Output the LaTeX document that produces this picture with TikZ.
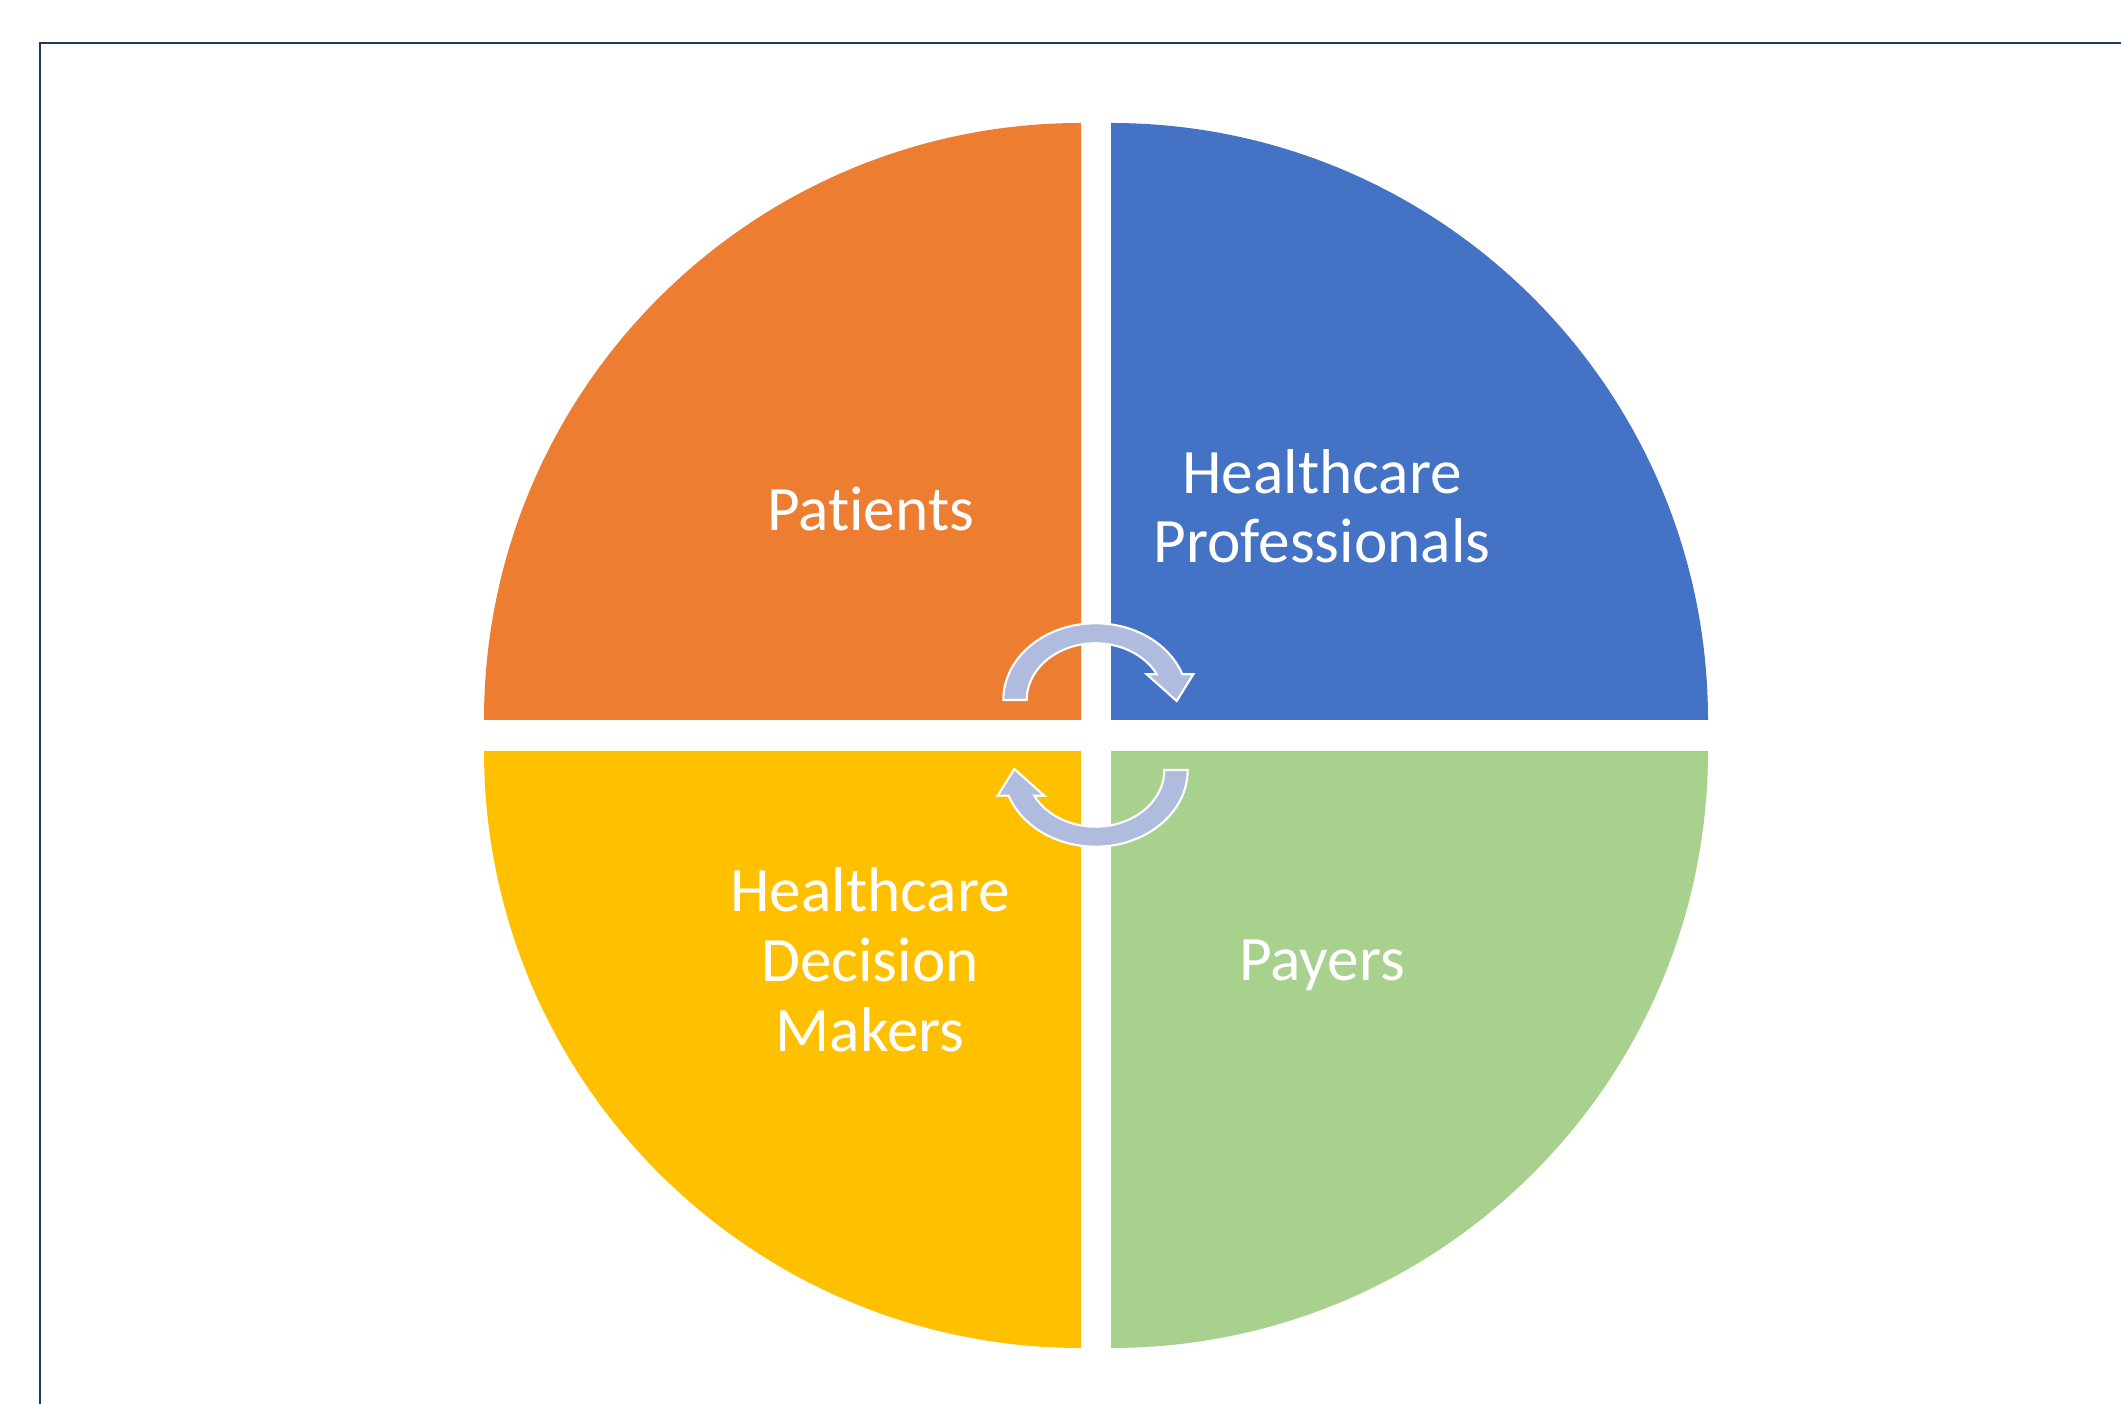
\documentclass[tikz,border=0pt]{standalone}
\usepackage{fontspec}
\setmainfont{Carlito}[Ligatures=CommonOff]
\definecolor{qorange}{RGB}{237,125,49}
\definecolor{qblue}{RGB}{68,114,196}
\definecolor{qgold}{RGB}{255,192,0}
\definecolor{qgreen}{RGB}{169,209,142}
\definecolor{cyclefill}{RGB}{175,188,222}
\definecolor{framecol}{RGB}{32,56,100}
\begin{document}
\begin{tikzpicture}[x=0.01cm,y=-0.01cm,
  label/.style={text=white, font=\fontsize{18}{19.7}\selectfont, align=center, inner sep=0pt, anchor=base},
  cyclearrow/.style={fill=cyclefill, draw=white, line width=0.6pt, line join=miter}]
  \useasboundingbox (0,0) rectangle (2121,1404);
  \fill[white] (0,0) rectangle (2121,1404);
  % page frame
  \draw[framecol, line width=0.6pt] (40,1404) -- (40,43) -- (2121,43);

  % four quadrants of the circle
  \fill[qorange] (1081,720) -- (484,720) arc[start angle=180, end angle=270, radius=597] -- cycle;
  \fill[qblue]   (1111,720) -- (1111,123) arc[start angle=270, end angle=360, radius=597] -- cycle;
  \fill[qgreen]  (1111,751) -- (1708,751) arc[start angle=0, end angle=90, radius=597] -- cycle;
  \fill[qgold]   (1081,751) -- (1081,1348) arc[start angle=90, end angle=180, radius=597] -- cycle;

  % labels (anchored at the baseline of their last line)
  \node[label] (patients) at (870.5,531) {Patients};
  \node[label] (hcp) at (1322,563) {Healthcare\\Professionals};
  \node[label, font=\fontsize{18}{19.9}\selectfont] (hdm) at (870,1051) {Healthcare\\Decision\\Makers};
  \node[label] (payers) at (1322,981) {Payers};

  % circular arrows in the centre
  \begin{scope}[shift={(1095.5,700)}]
    \path[cyclearrow] (-92.2,0) arc[start angle=180, end angle=340.43, x radius=92.2, y radius=76.7]
      -- (97.8,-25.7) -- (81.2,1) -- (51.2,-25.7) -- (61.3,-25.7)
      arc[start angle=333.05, end angle=180, x radius=68.8, y radius=56.7] -- cycle;
  \end{scope}
  \begin{scope}[shift={(1095.5,770)}, rotate=180]
    \path[cyclearrow] (-92.2,0) arc[start angle=180, end angle=340.43, x radius=92.2, y radius=76.7]
      -- (97.8,-25.7) -- (81.2,1) -- (51.2,-25.7) -- (61.3,-25.7)
      arc[start angle=333.05, end angle=180, x radius=68.8, y radius=56.7] -- cycle;
  \end{scope}
\end{tikzpicture}
\end{document}
